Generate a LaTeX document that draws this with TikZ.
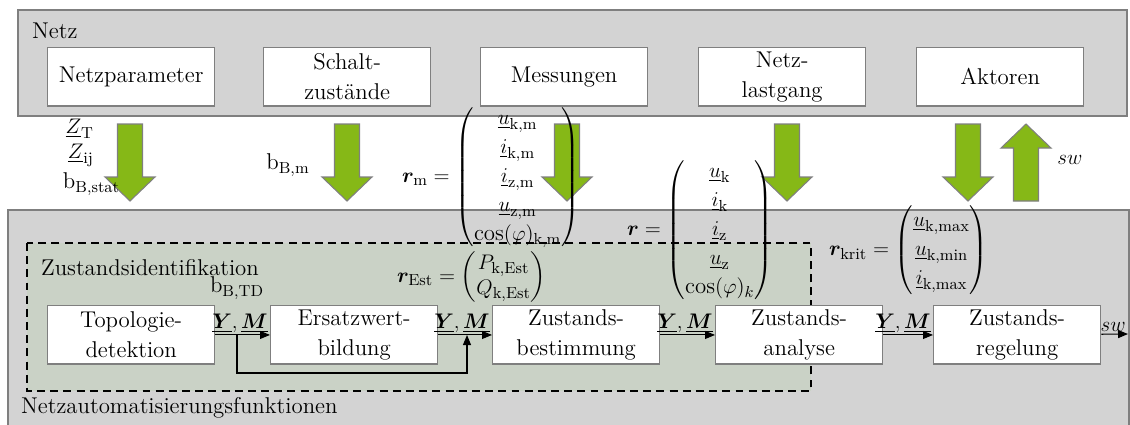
\documentclass[tikz,border=0pt]{standalone}
\usepackage{amsmath}
\usepackage{bm}
\usepackage{fontspec}
\usepackage{tikz}
\usetikzlibrary{arrows.meta}
\definecolor{netzgrau}{HTML}{D3D3D3}
\definecolor{rahmengrau}{HTML}{7F7F7F}
\definecolor{pfeilgruen}{HTML}{86B817}
\definecolor{zidgruen}{HTML}{CAD2C6}
\newcommand{\YM}{{\fontsize{12}{14}\selectfont$\underline{\bm{Y}}, \underline{\bm{M}}$}}

\begin{document}
\begin{tikzpicture}[x=0.02cm, y=-0.02cm,
    font=\fontsize{13}{17}\selectfont,
    block/.style={draw=rahmengrau, line width=0.8pt, fill=white, align=center,
        minimum width=3.34cm, minimum height=1.17cm, inner sep=1pt},
    beschr/.style={inner sep=1pt},
    pfeil/.style={line width=0.6pt, -{Triangle[length=2mm, width=1.6mm]}},
    gpfeil/.pic={\draw[rahmengrau, fill=pfeilgruen, line width=0.6pt]
        (-12.5,0) -- (-12.5,53) -- (-25,53) -- (0,77) -- (25,53) -- (12.5,53) -- (12.5,0) -- cycle;}]
    \useasboundingbox (0,0) rectangle (1130,424);

    % Netz
    \draw[rahmengrau, fill=netzgrau, line width=0.8pt] (18,10) rectangle (1127,116);
    \node[beschr, anchor=west] (netz) at (30,31) {Netz};
    \node[block, anchor=north west] (param) at (47,47) {Netzparameter};
    \node[block, anchor=north west] (schalt) at (263,47) {Schalt-\\zustände};
    \node[block, anchor=north west] (mess) at (480,47) {Messungen};
    \node[block, anchor=north west] (last) at (698,47) {Netz-\\lastgang};
    \node[block, anchor=north west] (akt) at (916,47) {Aktoren};

    % Netzautomatisierungsfunktionen
    \draw[rahmengrau, fill=netzgrau, line width=0.8pt] (8,210) rectangle (1129,440);
    \node[beschr, anchor=west] (naf) at (19,408) {Netzautomatisierungsfunktionen};

    % Zustandsidentifikation (gestrichelt)
    \draw[fill=zidgruen, line width=0.7pt, dash pattern=on 4.5pt off 3pt] (27,243) rectangle (811,391);
    \node[beschr, anchor=west] (zid) at (39,268) {Zustandsidentifikation};

    % Gruene Pfeile
    \pic at (130,124) {gpfeil};
    \pic at (347,124) {gpfeil};
    \pic at (567,124) {gpfeil};
    \pic at (787,124) {gpfeil};
    \pic at (968,124) {gpfeil};
    \pic[rotate=180] at (1026,201) {gpfeil};

    % Bloecke
    \node[block, anchor=north west] (topo) at (47,305) {Topologie-\\detektion};
    \node[block, anchor=north west] (ersatz) at (270,305) {Ersatzwert-\\bildung};
    \node[block, anchor=north west] (bestimm) at (492,305) {Zustands-\\bestimmung};
    \node[block, anchor=north west] (analyse) at (715,305) {Zustands-\\analyse};
    \node[block, anchor=north west] (regel) at (933,305) {Zustands-\\regelung};

    % Signale
    \draw[pfeil] (topo) -- (ersatz) node[beschr, pos=1, above left] {\YM};
    \draw[pfeil] (ersatz) -- (bestimm) node[beschr, pos=1, above left] {\YM};
    \draw[pfeil] (bestimm) -- (analyse) node[beschr, pos=1, above left] {\YM};
    \draw[pfeil] (analyse) -- (regel) node[beschr, pos=1, above left] {\YM};
    \coordinate (aus) at (1128,334);
    \draw[pfeil] (regel) -- (aus) node[beschr, pos=1, above left] {$sw$};

    % Rueckfuehrung
    \coordinate (abzw) at (237,334);
    \coordinate (einm) at (467,335);
    \draw[pfeil] (abzw) -- ++(0,39) -| (einm);

    % Groessen
    \node[beschr, anchor=east] (zt) at (96,129) {$\underline{Z}_{\mathrm{T}}$};
    \node[beschr, anchor=east] (zij) at (96,155) {$\underline{Z}_{\mathrm{ij}}$};
    \node[beschr, anchor=east] (bstat) at (122,184) {$\mathrm{b}_{\mathrm{B,stat}}$};
    \node[beschr] (bm) at (288,165) {$\mathrm{b}_{\mathrm{B,m}}$};
    \node[beschr] (sw) at (1070,160) {$sw$};
    \node[beschr] (btd) at (237,288) {$\mathrm{b}_{\mathrm{B,TD}}$};
    \node[beschr, anchor=west] (rm) at (400,177) {\def\arraystretch{0.97}$\bm{r}_{\mathrm{m}} = \begin{pmatrix}
        \underline{u}_{\mathrm{k,m}}\\ \underline{i}_{\mathrm{k,m}}\\ \underline{i}_{\mathrm{z,m}}\\
        \underline{u}_{\mathrm{z,m}}\\ \cos(\varphi)_{\mathrm{k,m}}\end{pmatrix}$};
    \node[beschr, anchor=west] (r) at (625,230) {\def\arraystretch{0.97}$\bm{r} = \begin{pmatrix}
        \underline{u}_{\mathrm{k}}\\ \underline{i}_{\mathrm{k}}\\ \underline{i}_{\mathrm{z}}\\
        \underline{u}_{\mathrm{z}}\\ \cos(\varphi)_{k}\end{pmatrix}$};
    \node[beschr, anchor=west] (rkrit) at (827,250) {\def\arraystretch{0.97}$\bm{r}_{\mathrm{krit}} = \begin{pmatrix}
        \underline{u}_{\mathrm{k,max}}\\ \underline{u}_{\mathrm{k,min}}\\ \underline{i}_{\mathrm{k,max}}\end{pmatrix}$};
    \node[beschr, anchor=west] (rest) at (395,277) {\def\arraystretch{0.83}$\bm{r}_{\mathrm{Est}} = \begin{pmatrix}
        P_{\mathrm{k,Est}}\\ Q_{\mathrm{k,Est}}\end{pmatrix}$};
\end{tikzpicture}
\end{document}
